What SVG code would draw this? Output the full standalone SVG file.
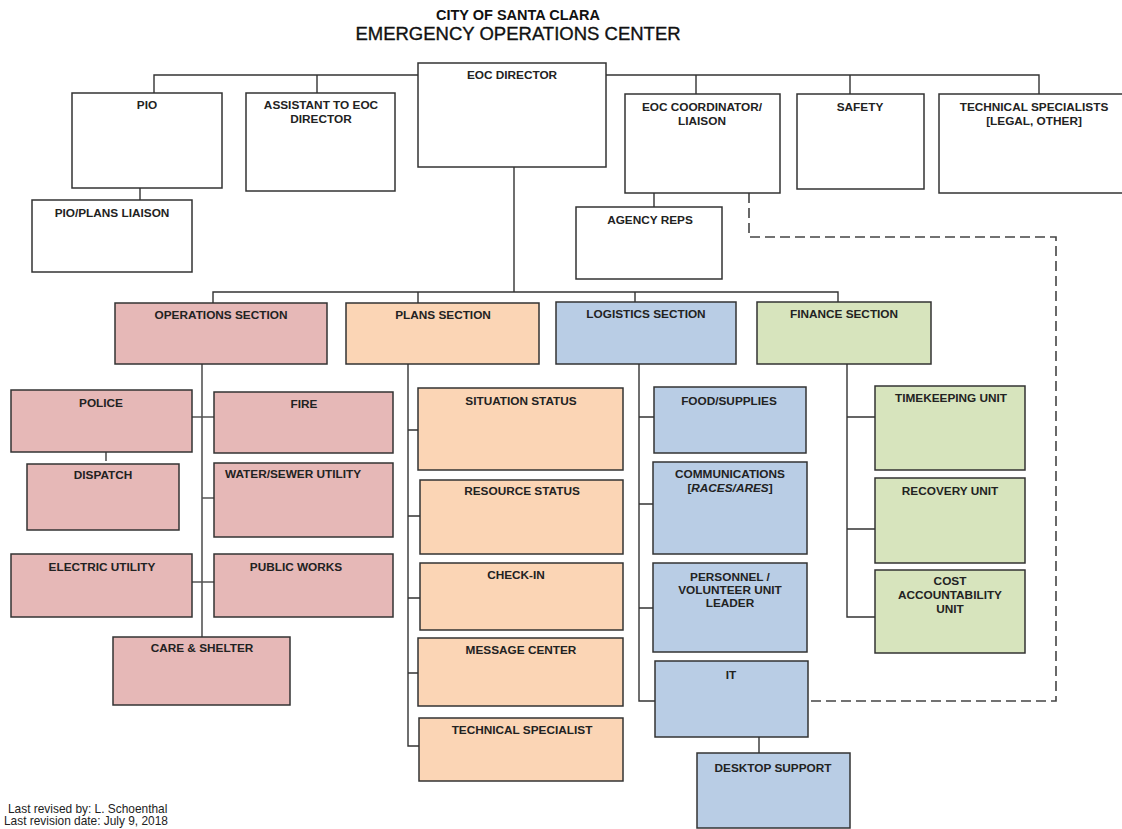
<svg xmlns="http://www.w3.org/2000/svg" width="1122" height="829" viewBox="0 0 1122 829">
<style>
.bx{stroke:#333;stroke-width:1.5}
.w{fill:#fff}
.ops{fill:#e6b8b7}
.pln{fill:#fbd5b5}
.log{fill:#b9cde5}
.fin{fill:#d7e4bd}
.t{font-family:"Liberation Sans",Arial,sans-serif;font-weight:bold;font-size:11.8px;fill:#222;text-anchor:middle}
.ln{fill:none;stroke:#333;stroke-width:1.4}
.lg{fill:none;stroke:#555;stroke-width:1.6}
.dash{fill:none;stroke:#444;stroke-width:1.6;stroke-dasharray:10,5}
</style>
<rect width="1122" height="829" fill="#fff"/>
<g id="title">
<text x="518" y="20" font-family="Liberation Sans,Arial,sans-serif" font-weight="bold" font-size="14.5" fill="#111" text-anchor="middle">CITY OF SANTA CLARA</text>
<text x="518" y="40" font-family="Liberation Sans,Arial,sans-serif" font-size="18.5" fill="#111" stroke="#111" stroke-width="0.35" text-anchor="middle">EMERGENCY OPERATIONS CENTER</text>
</g>
<g id="connectors">
<path class="ln" d="M154,93V75H418M606,75H1039V94M317,75V93M696,75V94M850,75V94"/>
<path class="ln" d="M140,188V200M654,193V207"/>
<path class="ln" d="M514,167V292M213,303V292H838V302M418,292V303M635,292V302"/>
<path class="lg" d="M202,364V637M192,417H214M202,498H214M192,582H216M106,452V461"/>
<path class="ln" d="M408,364V746H419M408,430H420M408,516H420M408,598H420M408,673H418"/>
<path class="ln" d="M639,364V701H655M639,417H654M639,504H653M639,608H653"/>
<path class="ln" d="M847,364V617H875M847,417H875M847,529H875"/>
<path class="ln" d="M759,737V753"/>
<path class="dash" d="M749,193V237H1056V701H808"/>
</g>
<g id="eoc-director"><rect class="bx w" x="418" y="63" width="188" height="104"/><text class="t" x="512" y="79">EOC DIRECTOR</text></g>
<g id="pio"><rect class="bx w" x="72" y="93" width="150" height="95"/><text class="t" x="147" y="109">PIO</text></g>
<g id="assistant"><rect class="bx w" x="246" y="93" width="149" height="98"/><text class="t" x="321" y="109">ASSISTANT TO EOC</text><text class="t" x="321" y="123">DIRECTOR</text></g>
<g id="pio-plans-liaison"><rect class="bx w" x="32" y="200" width="160" height="72"/><text class="t" x="112" y="217">PIO/PLANS LIAISON</text></g>
<g id="eoc-coordinator"><rect class="bx w" x="625" y="94" width="155" height="99"/><text class="t" x="702" y="111">EOC COORDINATOR/</text><text class="t" x="702" y="125">LIAISON</text></g>
<g id="agency-reps"><rect class="bx w" x="576" y="207" width="146" height="72"/><text class="t" x="650" y="224">AGENCY REPS</text></g>
<g id="safety"><rect class="bx w" x="797" y="94" width="127" height="95"/><text class="t" x="860" y="111">SAFETY</text></g>
<g id="technical-specialists"><rect class="bx w" x="939" y="94" width="190" height="99"/><text class="t" x="1034" y="111">TECHNICAL SPECIALISTS</text><text class="t" x="1034" y="125">[LEGAL, OTHER]</text></g>

<g id="operations-section"><rect class="bx ops" x="115" y="303" width="212" height="61"/><text class="t" x="221" y="319">OPERATIONS SECTION</text></g>
<g id="plans-section"><rect class="bx pln" x="346" y="303" width="193" height="61"/><text class="t" x="443" y="319">PLANS SECTION</text></g>
<g id="logistics-section"><rect class="bx log" x="556" y="302" width="180" height="62"/><text class="t" x="646" y="318">LOGISTICS SECTION</text></g>
<g id="finance-section"><rect class="bx fin" x="757" y="302" width="174" height="62"/><text class="t" x="844" y="318">FINANCE SECTION</text></g>

<g id="police"><rect class="bx ops" x="11" y="390" width="181" height="62"/><text class="t" x="101" y="407">POLICE</text></g>
<g id="fire"><rect class="bx ops" x="214" y="392" width="179" height="61"/><text class="t" x="304" y="408">FIRE</text></g>
<g id="dispatch"><rect class="bx ops" x="27" y="464" width="152" height="66"/><text class="t" x="103" y="479">DISPATCH</text></g>
<g id="water-sewer"><rect class="bx ops" x="214" y="463" width="179" height="74"/><text class="t" x="293" y="478">WATER/SEWER UTILITY</text></g>
<g id="electric"><rect class="bx ops" x="11" y="554" width="181" height="63"/><text class="t" x="102" y="571">ELECTRIC UTILITY</text></g>
<g id="public-works"><rect class="bx ops" x="214" y="554" width="179" height="63"/><text class="t" x="296" y="571">PUBLIC WORKS</text></g>
<g id="care-shelter"><rect class="bx ops" x="113" y="637" width="177" height="68"/><text class="t" x="202" y="652">CARE &amp; SHELTER</text></g>

<g id="situation-status"><rect class="bx pln" x="418" y="388" width="205" height="82"/><text class="t" x="521" y="405">SITUATION STATUS</text></g>
<g id="resource-status"><rect class="bx pln" x="420" y="480" width="203" height="74"/><text class="t" x="522" y="495">RESOURCE STATUS</text></g>
<g id="check-in"><rect class="bx pln" x="420" y="563" width="203" height="67"/><text class="t" x="516" y="579">CHECK-IN</text></g>
<g id="message-center"><rect class="bx pln" x="418" y="638" width="205" height="68"/><text class="t" x="521" y="654">MESSAGE CENTER</text></g>
<g id="technical-specialist"><rect class="bx pln" x="419" y="718" width="204" height="63"/><text class="t" x="522" y="734">TECHNICAL SPECIALIST</text></g>

<g id="food-supplies"><rect class="bx log" x="654" y="387" width="152" height="66"/><text class="t" x="729" y="405">FOOD/SUPPLIES</text></g>
<g id="communications"><rect class="bx log" x="653" y="462" width="154" height="92"/><text class="t" x="730" y="478">COMMUNICATIONS</text><text class="t" x="730" y="492" font-weight="normal">[<tspan font-style="italic">RACES/ARES</tspan>]</text></g>
<g id="personnel"><rect class="bx log" x="653" y="563" width="154" height="89"/><text class="t" x="730" y="581">PERSONNEL /</text><text class="t" x="730" y="594">VOLUNTEER UNIT</text><text class="t" x="730" y="607">LEADER</text></g>
<g id="it"><rect class="bx log" x="655" y="661" width="153" height="76"/><text class="t" x="731" y="679">IT</text></g>
<g id="desktop-support"><rect class="bx log" x="697" y="753" width="153" height="75"/><text class="t" x="773" y="772">DESKTOP SUPPORT</text></g>

<g id="timekeeping"><rect class="bx fin" x="875" y="386" width="150" height="84"/><text class="t" x="951" y="402">TIMEKEEPING UNIT</text></g>
<g id="recovery"><rect class="bx fin" x="875" y="478" width="150" height="85"/><text class="t" x="950" y="495">RECOVERY UNIT</text></g>
<g id="cost-accountability"><rect class="bx fin" x="875" y="570" width="150" height="83"/><text class="t" x="950" y="585">COST</text><text class="t" x="950" y="599">ACCOUNTABILITY</text><text class="t" x="950" y="613">UNIT</text></g>

<g id="footer" font-family="Liberation Sans,Arial,sans-serif" font-size="11.9" fill="#222">
<text x="8" y="813">Last revised by: L. Schoenthal</text>
<text x="4" y="825">Last revision date: July 9, 2018</text>
</g>
</svg>
